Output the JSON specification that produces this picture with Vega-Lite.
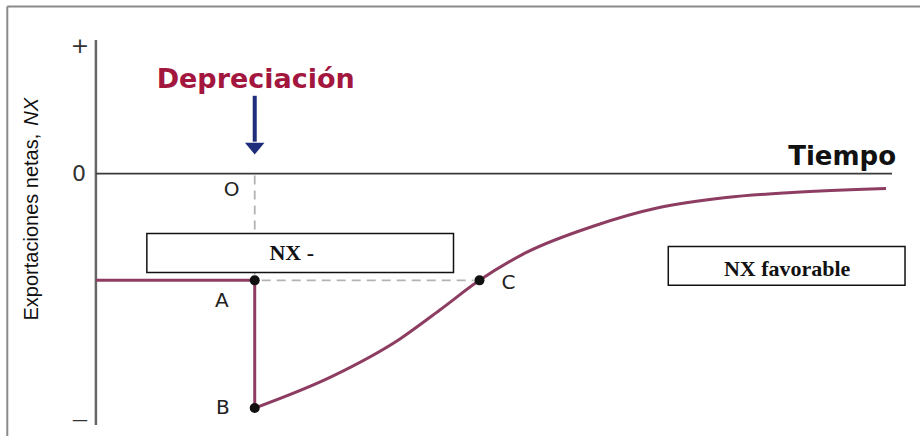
{
  "$schema": "https://vega.github.io/schema/vega-lite/v6.json",
  "width": 921,
  "height": 437,
  "autosize": {"type": "fit", "contains": "padding"},
  "padding": 0,
  "background": "white",
  "config": {"view": {"stroke": null}},
  "datasets": {
    "frame": [
      {"t": -8.87, "nx": 16.75, "t2": -8.87, "nx2": -26.3},
      {"t": -8.87, "nx": 16.75, "t2": 82.5, "nx2": 16.75}
    ],
    "yaxis": [{"t": 0, "nx": 13.4, "t2": 0, "nx2": -25.2}],
    "zero": [{"t": 0, "nx": 0, "t2": 79.7, "nx2": 0}],
    "guides": [
      {"t": 15.9, "nx": -0.2, "t2": 15.9, "nx2": -10.4},
      {"t": 16.6, "nx": -10.7, "t2": 37.8, "nx2": -10.7}
    ],
    "base": [
      {"t": 0, "nx": -10.7, "o": 1},
      {"t": 15.9, "nx": -10.7, "o": 2},
      {"t": 15.9, "nx": -23.5, "o": 3}
    ],
    "curve": [
      {"t": 15.9, "nx": -23.5},
      {"t": 23.7, "nx": -20.3},
      {"t": 30.4, "nx": -16.6},
      {"t": 34.4, "nx": -13.7},
      {"t": 38.4, "nx": -10.7},
      {"t": 43.1, "nx": -7.9},
      {"t": 49.7, "nx": -5.3},
      {"t": 56.4, "nx": -3.4},
      {"t": 63.1, "nx": -2.4},
      {"t": 69.7, "nx": -1.9},
      {"t": 79.1, "nx": -1.5}
    ],
    "points": [
      {"t": 15.9, "nx": -10.7, "name": "A"},
      {"t": 15.9, "nx": -23.5, "name": "B"},
      {"t": 38.4, "nx": -10.7, "name": "C"}
    ],
    "shaft": [{"t": 15.9, "nx": 7.8, "t2": 15.9, "nx2": 3.2}],
    "head": [{"t": 15.9, "nx": 2.5}],
    "boxes": [
      {"t": 5.1, "t2": 35.8, "nx": -6.0, "nx2": -9.9, "label": "NX -", "tc": 19.6, "nc": -7.95},
      {"t": 57.3, "t2": 81.0, "nx": -7.3, "nx2": -11.2, "label": "NX favorable", "tc": 69.2, "nc": -9.6}
    ],
    "ticks": [
      {"t": -1.6, "nx": 12.8, "label": "+"},
      {"t": -1.7, "nx": 0, "label": "0"}
    ],
    "minus": [
      {"t": -1.6, "nx": -24.7, "label": "—"}
    ],
    "ptlabels": [
      {"t": 13.6, "nx": -1.6, "label": "O"},
      {"t": 12.6, "nx": -12.8, "label": "A"},
      {"t": 12.7, "nx": -23.5, "label": "B"},
      {"t": 41.3, "nx": -11.0, "label": "C"}
    ],
    "dep": [{"t": 16.0, "nx": 9.4, "label": "Depreciación"}],
    "tiempo": [{"t": 80.1, "nx": 0.9, "label": "Tiempo"}],
    "ytitle1": [{"t": -6.4, "nx": 4.0, "label": "Exportaciones netas,"}],
    "ytitle2": [{"t": -6.4, "nx": 4.8, "label": "NX"}]
  },
  "encoding": {
    "x": {"field": "t", "type": "quantitative", "scale": {"domain": [-9.6, 82.5], "nice": false, "zero": false}, "axis": null},
    "y": {"field": "nx", "type": "quantitative", "scale": {"domain": [-26.3, 17.4], "nice": false, "zero": false}, "axis": null}
  },
  "layer": [
    {
      "data": {"name": "frame"},
      "mark": {"type": "rule", "color": "#8a8a8a", "strokeWidth": 2},
      "encoding": {"x2": {"field": "t2"}, "y2": {"field": "nx2"}}
    },
    {
      "data": {"name": "guides"},
      "mark": {"type": "rule", "color": "#b3b3b3", "strokeWidth": 1.8, "strokeDash": [9, 6]},
      "encoding": {"x2": {"field": "t2"}, "y2": {"field": "nx2"}}
    },
    {
      "data": {"name": "yaxis"},
      "mark": {"type": "rule", "color": "#666666", "strokeWidth": 2.5},
      "encoding": {"x2": {"field": "t2"}, "y2": {"field": "nx2"}}
    },
    {
      "data": {"name": "zero"},
      "mark": {"type": "rule", "color": "#3a3a3a", "strokeWidth": 1.8},
      "encoding": {"x2": {"field": "t2"}, "y2": {"field": "nx2"}}
    },
    {
      "data": {"name": "boxes"},
      "mark": {"type": "rect", "fill": "white", "stroke": "#111111", "strokeWidth": 1.5},
      "encoding": {"x2": {"field": "t2"}, "y2": {"field": "nx2"}}
    },
    {
      "data": {"name": "boxes"},
      "mark": {"type": "text", "font": "Liberation Serif", "fontWeight": "bold", "fontSize": 22, "color": "#111111", "align": "center", "baseline": "middle"},
      "encoding": {
        "x": {"field": "tc", "type": "quantitative"},
        "y": {"field": "nc", "type": "quantitative"},
        "text": {"field": "label"}
      }
    },
    {
      "data": {"name": "base"},
      "mark": {"type": "line", "color": "#8e3d62", "strokeWidth": 3},
      "encoding": {"order": {"field": "o", "type": "quantitative"}}
    },
    {
      "data": {"name": "curve"},
      "mark": {"type": "line", "color": "#8e3d62", "strokeWidth": 3, "interpolate": "monotone"},
      "encoding": {}
    },
    {
      "data": {"name": "points"},
      "mark": {"type": "point", "filled": true, "color": "#111111", "size": 100, "opacity": 1}
    },
    {
      "data": {"name": "shaft"},
      "mark": {"type": "rule", "color": "#1f2d7a", "strokeWidth": 4},
      "encoding": {"x2": {"field": "t2"}, "y2": {"field": "nx2"}}
    },
    {
      "data": {"name": "head"},
      "mark": {"type": "point", "filled": true, "color": "#1f2d7a", "opacity": 1, "size": 380, "shape": "M-1,-0.6L1,-0.6L0,0.6Z"}
    },
    {
      "data": {"name": "ticks"},
      "mark": {"type": "text", "font": "DejaVu Sans", "fontSize": 22, "color": "#333333", "align": "center", "baseline": "middle"},
      "encoding": {"text": {"field": "label"}}
    },
    {
      "data": {"name": "minus"},
      "mark": {"type": "text", "font": "DejaVu Sans", "fontSize": 16, "color": "#333333", "align": "center", "baseline": "middle"},
      "encoding": {"text": {"field": "label"}}
    },
    {
      "data": {"name": "ptlabels"},
      "mark": {"type": "text", "font": "DejaVu Sans", "fontSize": 20, "color": "#222222", "align": "center", "baseline": "middle"},
      "encoding": {"text": {"field": "label"}}
    },
    {
      "data": {"name": "dep"},
      "mark": {"type": "text", "font": "DejaVu Sans", "fontWeight": "bold", "fontSize": 27, "color": "#a3173f", "align": "center", "baseline": "middle"},
      "encoding": {"text": {"field": "label"}}
    },
    {
      "data": {"name": "tiempo"},
      "mark": {"type": "text", "font": "DejaVu Sans", "fontWeight": "bold", "fontSize": 26, "color": "#111111", "align": "right", "baseline": "alphabetic"},
      "encoding": {"text": {"field": "label"}}
    },
    {
      "data": {"name": "ytitle1"},
      "mark": {"type": "text", "font": "Liberation Sans", "fontSize": 20, "color": "#111111", "angle": 270, "align": "right", "baseline": "middle"},
      "encoding": {"text": {"field": "label"}}
    },
    {
      "data": {"name": "ytitle2"},
      "mark": {"type": "text", "font": "Liberation Sans", "fontSize": 20, "fontStyle": "italic", "color": "#111111", "angle": 270, "align": "left", "baseline": "middle"},
      "encoding": {"text": {"field": "label"}}
    }
  ]
}
